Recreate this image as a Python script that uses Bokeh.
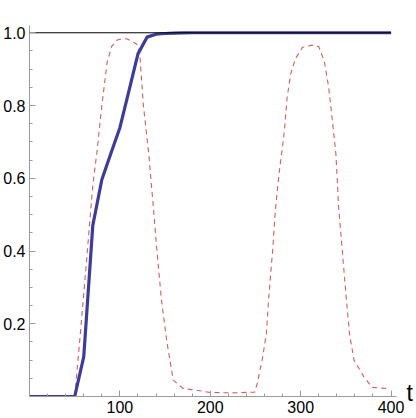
from bokeh.plotting import figure
from bokeh.models import FixedTicker, LinearAxis, Range1d
from bokeh.embed import file_html
from bokeh.resources import INLINE

# ---- data ----
t_blue = [0, 10, 20, 30, 40, 50, 60, 70, 80, 90, 100, 110, 120, 130, 140, 150,
          160, 170, 180, 200, 250, 300, 350, 400]
v_blue = [0.0, 0.0, 0.0, 0.0, 0.0, 0.0, 0.109, 0.47, 0.596, 0.668, 0.739, 0.84,
          0.942, 0.988, 0.996, 0.998, 0.999, 0.9995, 1.0, 1.0, 1.0, 1.0, 1.0, 1.0]

t_red = [0, 50, 54, 60, 64, 70, 75, 80, 86, 91, 97, 103, 108, 114, 119, 122, 126,
         132, 137, 141, 146, 152, 159, 170, 188, 200, 225, 249, 252, 258, 262, 265,
         269, 272, 276, 279, 282, 285, 289, 294, 302, 313, 320, 326, 331, 335, 339,
         342, 346, 350, 354, 359, 370, 379, 395]
v_red = [0.0, 0.0, 0.11, 0.28, 0.40, 0.58, 0.68, 0.80, 0.92, 0.963, 0.98, 0.984,
         0.983, 0.976, 0.968, 0.942, 0.80, 0.665, 0.52, 0.40, 0.265, 0.15, 0.045,
         0.022, 0.016, 0.011, 0.010, 0.012, 0.036, 0.109, 0.173, 0.283, 0.402, 0.512,
         0.612, 0.67, 0.731, 0.822, 0.887, 0.928, 0.96, 0.966, 0.962, 0.923, 0.85,
         0.759, 0.665, 0.52, 0.402, 0.283, 0.173, 0.10, 0.054, 0.025, 0.022]

t_ref = [0, 400]
v_ref = [1.0, 1.0]

x_ticks = [100, 200, 300, 400]
x_tick_labels = ["100", "200", "300", "400"]
x_minor = [20, 40, 60, 80, 120, 140, 160, 180, 220, 240, 260, 280, 320, 340, 360, 380]
y_ticks = [0.2, 0.4, 0.6, 0.8, 1.0]
y_tick_labels = ["0.2", "0.4", "0.6", "0.8", "1.0"]
y_minor = [0.05, 0.1, 0.15, 0.25, 0.3, 0.35, 0.45, 0.5, 0.55, 0.65, 0.7, 0.75,
           0.85, 0.9, 0.95]
x_label = "t"

FONT = "Liberation Sans"

p = figure(width=416, height=418, output_backend="svg", toolbar_location=None,
           x_range=Range1d(0, 406), y_range=Range1d(0, 1.02),
           min_border_left=27, min_border_right=20, min_border_top=25,
           min_border_bottom=22)
p.outline_line_color = None
p.grid.visible = False
p.background_fill_color = "white"

p.line(t_red, v_red, line_color="#d65b5b", line_width=1.1, line_dash="5 4")
p.line(t_blue, v_blue, line_color="#3d3d99", line_width=3.2)
p.line(t_ref, v_ref, line_color="black", line_width=1)

for ax in (p.xaxis[0], p.yaxis[0]):
    ax.axis_line_color = "#9a9a9a"
    ax.major_tick_line_color = "#9a9a9a"
    ax.minor_tick_line_color = "#9a9a9a"
    ax.major_tick_in = 6
    ax.major_tick_out = 0
    ax.minor_tick_in = 3
    ax.minor_tick_out = 0
    ax.major_label_text_font = FONT
    ax.major_label_text_font_size = "16px"
    ax.major_label_text_color = "black"

p.xaxis[0].ticker = FixedTicker(ticks=x_ticks, minor_ticks=x_minor)
p.xaxis[0].major_label_overrides = dict(zip(x_ticks, x_tick_labels))
p.xaxis[0].major_label_standoff = 4
p.yaxis[0].ticker = FixedTicker(ticks=y_ticks, minor_ticks=y_minor)
p.yaxis[0].major_label_overrides = dict(zip(y_ticks, y_tick_labels))
p.yaxis[0].major_label_standoff = 4

# the "t" variable name at the right end of the horizontal axis
t_axis = LinearAxis(ticker=FixedTicker(ticks=[0.01], minor_ticks=[]),
                    major_label_overrides={0.01: x_label},
                    axis_line_color=None, major_tick_line_color=None,
                    minor_tick_line_color=None, major_tick_in=0, major_tick_out=0,
                    minor_tick_in=0, minor_tick_out=0,
                    major_label_standoff=10, major_label_text_font=FONT,
                    major_label_text_font_size="23px",
                    major_label_text_color="black")
p.add_layout(t_axis, "right")

open("out.html", "w").write(file_html(p, INLINE))
